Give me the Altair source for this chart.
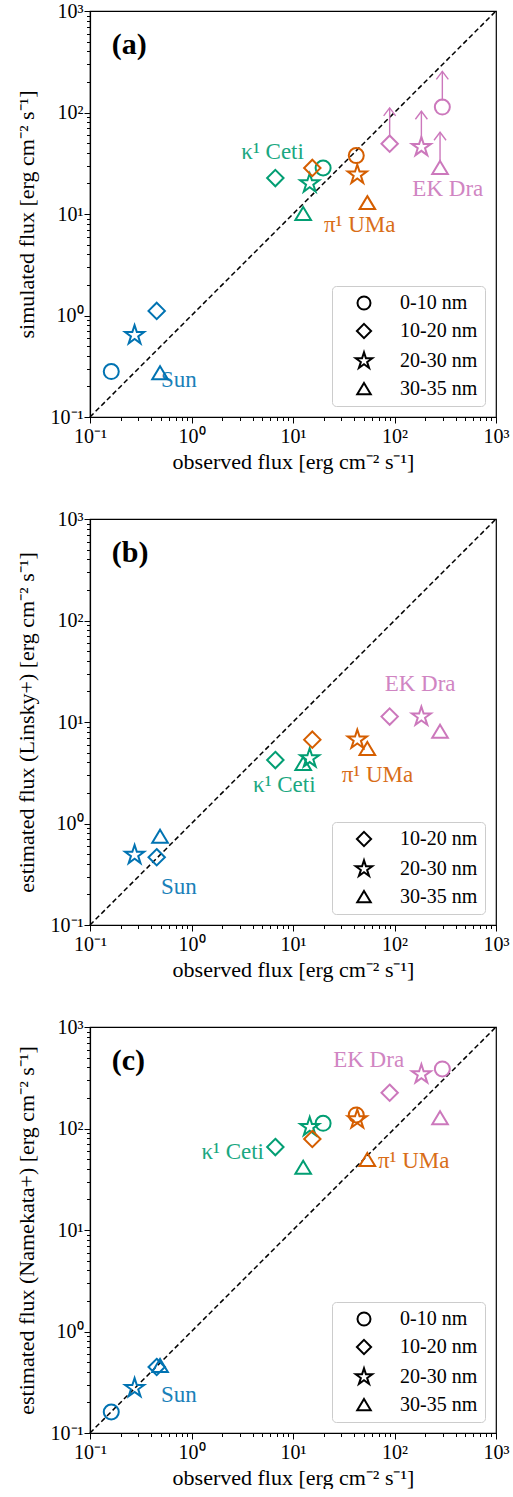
import altair as alt
import pandas as pd

# ---------------- data ----------------
stars = ["Sun", "κ¹ Ceti", "π¹ UMa", "EK Dra"]
star_colors = ["#0173B2", "#029E73", "#D55E00", "#CC78BC"]
bands = ["0-10 nm", "10-20 nm", "20-30 nm", "30-35 nm"]

# observed flux, per band (0-10, 10-20, 20-30, 30-35 nm)
obs_sun = [0.162, 0.454, 0.275, 0.49]
obs_ceti = [19.8, 6.7, 14.6, 12.6]
obs_uma = [42.0, 15.5, 43.0, 54.0]
obs_ekdra = [296.0, 89.6, 184.0, 281.0]

# (a) simulated flux
sim_sun = [0.28, 1.11, 0.64, 0.27]
sim_ceti = [28.4, 22.6, 20.0, 10.0]
sim_uma = [37.6, 28.4, 24.4, 12.8]
sim_ekdra = [113.0, 49.3, 45.7, 28.4]   # lower limits
lolim_factor = 2.25

# (b) estimated flux (Linsky+) -- no 0-10 nm
lin_sun = [None, 0.465, 0.49, 0.74]
lin_ceti = [None, 4.22, 4.39, 3.86]
lin_uma = [None, 6.7, 6.7, 5.42]
lin_ekdra = [None, 11.3, 11.3, 8.03]

# (c) estimated flux (Namekata+)
nam_sun = [0.161, 0.447, 0.277, 0.457]
nam_ceti = [112.5, 65.7, 103.5, 41.1]
nam_uma = [136.0, 78.8, 123.0, 49.0]
nam_ekdra = [386.0, 225.0, 342.0, 126.0]

# star-name annotations (data coords)
ann_a_x = [0.5, 12.8, 20.2, 150.0]
ann_a_y = [0.198, 34.8, 6.6, 14.9]
ann_a_align = ["left", "right", "left", "left"]
ann_b_x = [0.5, 4.04, 30.2, 80.0]
ann_b_y = [0.2, 2.03, 2.55, 20.0]
ann_b_align = ["left", "left", "left", "left"]
ann_c_x = [0.5, 5.18, 68.7, 24.9]
ann_c_y = [0.2, 49.8, 40.5, 401.0]
ann_c_align = ["left", "right", "left", "left"]

panel_labels = ["(a)", "(b)", "(c)"]
panel_label_x = 0.164
panel_label_y = 465.0

x_title = "observed flux [erg cm⁻² s⁻¹]"
y_titles = ["simulated flux [erg cm⁻² s⁻¹]",
            "estimated flux (Linsky+) [erg cm⁻² s⁻¹]",
            "estimated flux (Namekata+) [erg cm⁻² s⁻¹]"]

# ---------------- styling ----------------
FONT = "Liberation Serif"
STAR_PATH = ("M0,-1L-0.2245,-0.309L-0.951,-0.309L-0.363,0.118L-0.588,0.809"
             "L0,0.382L0.588,0.809L0.363,0.118L0.951,-0.309L0.2245,-0.309Z")
CIRCLE_PATH = "M0.75,0A0.75,0.75,0,1,1,-0.75,0A0.75,0.75,0,1,1,0.75,0Z"
DIAMOND_PATH = "M0,-0.82L0.82,0L0,0.82L-0.82,0Z"
TRIANGLE_PATH = "M0,-0.7L0.78,0.6L-0.78,0.6Z"
shape_paths = [CIRCLE_PATH, DIAMOND_PATH, STAR_PATH, TRIANGLE_PATH]
CHEVRON = "M-0.6,0.8L0,0L0.6,0.8"

decades = [0.1, 1, 10, 100]
tick_vals = []
for d in decades:
    for m in range(1, 10):
        tick_vals.append(round(m * d, 6))
tick_vals.append(1000)

E = "round(log(datum.value)/LN10)"
is_major = f"abs(log(datum.value)/LN10 - {E}) < 0.001"
label_expr = (f"!({is_major}) ? '' : {E} == -1 ? '10⁻¹' : {E} == 0 ? '10⁰' : "
              f"{E} == 1 ? '10¹' : {E} == 2 ? '10²' : '10³'")
tick_size = {"condition": {"test": is_major, "value": 6}, "value": 3.5}

scale = alt.Scale(type="log", domain=[0.1, 1000], nice=False)


def x_axis():
    return alt.Axis(values=tick_vals, labelExpr=label_expr, tickSize=tick_size,
                    title=x_title, labelFlush=False, labelOverlap=False,
                    labelPadding=3, titlePadding=5)


def y_axis(t):
    return alt.Axis(values=tick_vals, labelExpr=label_expr, tickSize=tick_size,
                    title=t, labelFlush=False, labelOverlap=False,
                    labelPadding=1, titlePadding=12)


def points_df(vals):
    rows = []
    for s, ov, sv in zip(stars, [obs_sun, obs_ceti, obs_uma, obs_ekdra], vals):
        for b, o, v in zip(bands, ov, sv):
            if v is not None:
                rows.append({"star": s, "band": b, "x": o, "y": v})
    return pd.DataFrame(rows)


def panel(i, vals, ann_x, ann_y, ann_align, band_list, arrows=False):
    yt = y_titles[i]
    X = alt.X("x:Q", scale=scale, axis=x_axis())
    Y = alt.Y("y:Q", scale=scale, axis=y_axis(yt))
    color = alt.Color("star:N", scale=alt.Scale(domain=stars, range=star_colors), legend=None)

    diag = alt.Chart(pd.DataFrame({"x": [0.1, 1000], "y": [0.1, 1000]})).mark_line(
        color="black", strokeDash=[5, 3], strokeWidth=1.5).encode(x=X, y=Y)

    df = points_df(vals)
    idx = [bands.index(b) for b in band_list]
    shape = alt.Shape("band:N",
                      scale=alt.Scale(domain=band_list, range=[shape_paths[k] for k in idx]),
                      legend=alt.Legend(
                          title=None, orient="bottom-right", offset=11, padding=7,
                          symbolOffset=15, labelOffset=26, rowPadding=5,
                          symbolSize=300, symbolStrokeColor="black",
                          symbolFillColor="transparent", symbolStrokeWidth=2,
                          strokeColor="#cccccc", cornerRadius=4,
                          fillColor="rgba(255,255,255,0.8)", labelFont=FONT,
                          labelFontSize=20, labelColor="black"))
    pts = alt.Chart(df).mark_point(filled=False, size=400, strokeWidth=2, opacity=1,
                                   color="black").encode(
        x=X, y=Y, color=color, shape=shape)

    ann = pd.DataFrame({"star": stars, "x": ann_x, "y": ann_y, "al": ann_align})
    layers = [diag]
    if arrows:
        ek = df[df["star"] == "EK Dra"].copy()
        ek["y0"] = ek["y"] * 1.16
        ek["y1"] = ek["y"] * lolim_factor
        rule = alt.Chart(ek).mark_rule(strokeWidth=1.4).encode(
            x=X, y=alt.Y("y0:Q", scale=scale, axis=y_axis(yt)), y2="y1:Q", color=color)
        head = alt.Chart(ek).mark_point(shape=CHEVRON, size=400, filled=False,
                                        strokeWidth=1.4, opacity=1).encode(
            x=X, y=alt.Y("y1:Q", scale=scale, axis=y_axis(yt)), color=color)
        layers += [rule, head]
    layers.append(pts)
    for al in ["left", "right"]:
        sub = ann[ann["al"] == al]
        if len(sub):
            layers.append(alt.Chart(sub).mark_text(
                align=al, baseline="alphabetic", font=FONT, fontSize=23, opacity=0.9).encode(
                x=X, y=Y, text="star:N", color=color))
    lab = alt.Chart(pd.DataFrame({"t": [panel_labels[i]], "x": [panel_label_x],
                                  "y": [panel_label_y]})).mark_text(
        align="left", baseline="middle", font=FONT, fontSize=30, fontWeight="bold",
        color="black").encode(x=X, y=Y, text="t:N")
    layers.append(lab)
    return alt.layer(*layers).properties(width=406, height=406)


pa = panel(0, [sim_sun, sim_ceti, sim_uma, sim_ekdra], ann_a_x, ann_a_y, ann_a_align, bands, arrows=True)
pb = panel(1, [lin_sun, lin_ceti, lin_uma, lin_ekdra], ann_b_x, ann_b_y, ann_b_align, bands[1:])
pc = panel(2, [nam_sun, nam_ceti, nam_uma, nam_ekdra], ann_c_x, ann_c_y, ann_c_align, bands)

chart = alt.vconcat(pa, pb, pc, spacing=102, bounds="flush").resolve_scale(
    shape="independent").resolve_legend(shape="independent").properties(
    padding={"left": 14, "top": 0, "right": 0, "bottom": 0},
    background="white"
).configure_view(stroke="black", strokeWidth=1.2).configure_axis(
    grid=False, domainColor="black", domainWidth=1.2, tickColor="black", tickWidth=1,
    labelFont=FONT, labelFontSize=20, labelColor="black",
    titleFont=FONT, titleFontSize=22, titleFontWeight="normal", titleColor="black")

chart.save("out.html", embed_options={"renderer": "svg", "actions": False})
